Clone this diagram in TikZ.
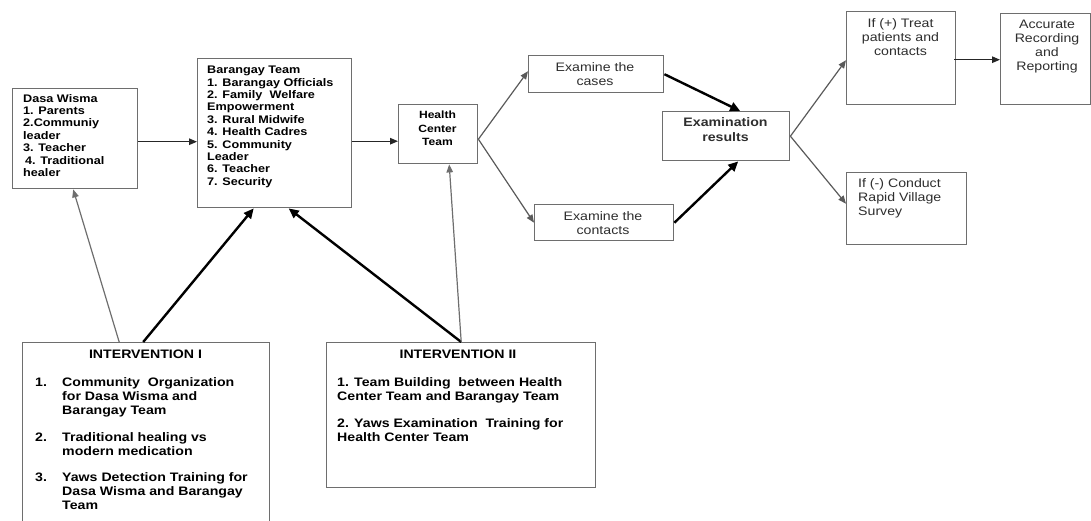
\documentclass[tikz,border=0pt]{standalone}
\usepackage{fontspec}
\setmainfont{Liberation Sans}[FakeStretch=1.15]
\usetikzlibrary{arrows.meta}
\definecolor{boxgray}{HTML}{6E6E6E}
\definecolor{linegray}{HTML}{5A5A5A}
\definecolor{txtgray}{HTML}{2E2E2E}
\newcommand\smallbold{\fontsize{11}{12.4}\selectfont\bfseries}
\newcommand\bigbold{\fontsize{12.3}{14}\selectfont\bfseries}
\newcommand\bigreg{\fontsize{12.3}{14}\selectfont}
\begin{document}
\begin{tikzpicture}[x=1pt,y=-1pt,
  box/.style={draw=boxgray, line width=1.4pt, fill=white, inner sep=0pt, anchor=north west},
  txt/.style={inner sep=0pt, text=black},
  thinarrow/.style={draw=linegray, line width=1.2pt, -{Triangle[length=8pt,width=6.5pt]}},
  darkarrow/.style={draw=black!85, line width=1.2pt, -{Triangle[length=8pt,width=6.5pt]}},
  thickarrow/.style={draw=black, line width=2.4pt, -{Triangle[length=10pt,width=9pt]}}]
\useasboundingbox (0,0) rectangle (1091,520);

% boxes
\node[box, minimum width=125pt, minimum height=100pt] (dasa) at (12,88) {};
\node[box, minimum width=154pt, minimum height=149pt] (bar) at (197,58) {};
\node[box, minimum width=79pt, minimum height=59pt] (health) at (398,104) {};
\node[box, minimum width=135pt, minimum height=37pt] (cases) at (528,55) {};
\node[box, minimum width=139pt, minimum height=36pt] (contacts) at (534,204) {};
\node[box, minimum width=127pt, minimum height=49pt] (results) at (662,111) {};
\node[box, minimum width=109pt, minimum height=93pt] (ifpos) at (846,11) {};
\node[box, minimum width=90pt, minimum height=91pt] (acc) at (1000,13) {};
\node[box, minimum width=120pt, minimum height=72pt] (ifneg) at (846,172) {};
\node[box, minimum width=247pt, minimum height=190pt] (int1) at (22,342) {};
\node[box, minimum width=269pt, minimum height=145pt] (int2) at (326,342) {};

% box texts
\node[txt, anchor=north west, align=left, font=\smallbold] (dasatxt) at (23,94)
  {Dasa Wisma\\1. Parents\\2.Communiy\\leader\\3. Teacher\\\hspace{2pt}4. Traditional\\healer};
\node[txt, anchor=north west, align=left, font=\smallbold] (bartxt) at (207,66)
  {Barangay Team\\1. Barangay Officials\\2. Family\ \ Welfare\\Empowerment\\3. Rural Midwife\\4. Health Cadres\\5. Community\\Leader\\6. Teacher\\7. Security};
\node[txt, anchor=north, align=center, font=\fontsize{10.5}{13.5}\selectfont\bfseries] (healthtxt) at (437.5,111)
  {Health\\Center\\Team};
\node[txt, anchor=north, align=center, font=\bigreg, text=txtgray] (casestxt) at (595,62.5)
  {Examine the\\cases};
\node[txt, anchor=north, align=center, font=\bigreg, text=txtgray] (contactstxt) at (603,211.5)
  {Examine the\\contacts};
\node[txt, anchor=north, align=center, font=\fontsize{12.3}{15}\selectfont\bfseries, text=txtgray] (resultstxt) at (725.5,117.5)
  {Examination\\results};
\node[txt, anchor=north, align=center, font=\bigreg, text=txtgray] (ifpostxt) at (900.5,18.5)
  {If (+) Treat\\patients and\\contacts};
\node[txt, anchor=north, align=center, font=\bigreg, text=txtgray] (acctxt) at (1047,19.5)
  {Accurate\\Recording\\and\\Reporting};
\node[txt, anchor=north west, align=left, font=\bigreg, text=txtgray] (ifnegtxt) at (858,178.5)
  {If (-) Conduct\\Rapid Village\\Survey};

\node[txt, font=\bigbold] (int1title) at (145.5,354) {INTERVENTION I};
\node[txt, anchor=north west, font=\bigbold] (int1list) at (35,376.7)
  {\begin{tabular}{@{}p{27pt}@{}l@{}}
   1. & Community\ \ Organization\\
      & for Dasa Wisma and\\
      & Barangay Team\\[12.5pt]
   2. & Traditional healing vs\\
      & modern medication\\[12.5pt]
   3. & Yaws Detection Training for\\
      & Dasa Wisma and Barangay\\
      & Team
   \end{tabular}};

\node[txt, font=\bigbold] (int2title) at (458,354) {INTERVENTION II};
\node[txt, anchor=north west, align=left, font=\bigbold] (int2list) at (337,377.5)
  {1. Team Building\ \ between Health\\Center Team and Barangay Team\\[13pt]2. Yaws Examination\ \ Training for\\Health Center Team};

% connectors
\draw[darkarrow] ([yshift=-3pt]dasa.east) -- ([yshift=-3pt]dasa.east -| bar.west);
\draw[darkarrow] ([yshift=-8pt]bar.east) -- ([yshift=-8pt]bar.east -| health.west);
\draw[thinarrow] ([yshift=-5pt]health.east) -- ([yshift=3pt]cases.west);
\draw[thinarrow] ([yshift=-5pt]health.east) -- (contacts.west);
\draw[thickarrow] (cases.east) -- ([xshift=14pt]results.north);
\draw[thickarrow] (contacts.east) -- ([xshift=12pt]results.south);
\draw[thinarrow] (results.east) -- ([yshift=-2pt]ifpos.west);
\draw[thinarrow] (results.east) -- ([yshift=5pt]ifneg.west);
\draw[darkarrow] ([xshift=-2pt,yshift=-1.5pt]ifpos.east) -- ([yshift=-1.5pt]ifpos.east -| acc.west);

\draw[thinarrow, draw=boxgray] ([xshift=-27pt]int1.north) -- ([xshift=-2pt]dasa.south);
\draw[thickarrow] ([xshift=-3pt]int1.north) -- ([xshift=-21pt]bar.south);
\draw[thickarrow] (int2.north) -- ([xshift=14pt]bar.south);
\draw[thinarrow, draw=boxgray] (int2.north) -- ([xshift=11pt]health.south);
\end{tikzpicture}
\end{document}
